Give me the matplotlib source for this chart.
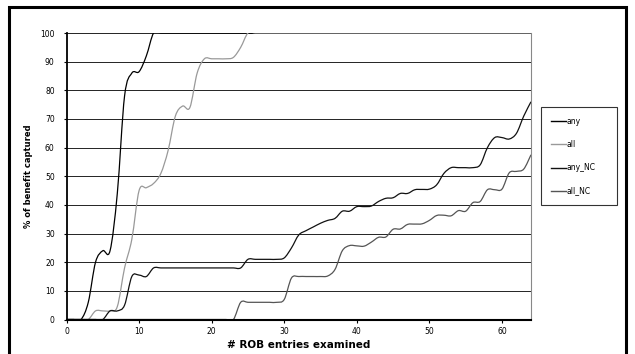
import numpy as np
import matplotlib
matplotlib.use("Agg")
import matplotlib.pyplot as plt
from matplotlib.path import Path
from matplotlib.patches import PathPatch, Rectangle
from matplotlib.lines import Line2D

# ROB entries examined
entries = np.arange(0, 65)

any_ = [0, 0, 0, 6, 20, 24, 24, 44, 78, 86, 86.5, 92, 100] + [100] * 52
all_ = ([0, 0, 0, 0, 3, 3, 3, 4.5, 18, 28, 45, 46, 47.5, 51, 59, 71, 74.5, 74,
         86, 91, 91, 91, 91, 91.5, 95, 100] + [100] * 39)
any_nc = ([0, 0, 0, 0, 0, 0, 3, 3, 5, 15, 15.5, 15] + [18] * 13 +
          [21, 21, 21, 21, 21, 21.5, 25, 29.5, 31, 32.3, 33.6, 34.6, 35.3,
           37.8, 37.8, 39.4, 39.4, 39.6, 41.2, 42.3, 42.5, 44, 44, 45.3, 45.4,
           45.5, 47, 51, 53, 53, 53, 53, 54, 60, 63.5, 63.5, 63, 65, 71, 76])
all_nc = ([0] * 24 + [6, 6, 6, 6, 6, 6, 7, 14.5, 15, 15, 15, 15, 15.2, 17.5,
                      24, 25.8, 25.7, 25.6, 27, 28.7, 28.8, 31.5, 31.6, 33.2,
                      33.3, 33.4, 34.6, 36.3, 36.4, 36.2, 38, 37.8, 40.8, 41.2,
                      45.3, 45.3, 45.5, 51.2, 51.7, 52.5, 57.5])

series = [("any", any_, "#000000"),
          ("all", all_, "#999999"),
          ("any_NC", any_nc, "#111111"),
          ("all_NC", all_nc, "#555555")]


def smooth_path(x, y):
    # excel-style smoothed line: bezier segments through the points
    x = np.asarray(x, float)
    y = np.asarray(y, float)
    n = len(x)
    verts = [(x[0], y[0])]
    codes = [Path.MOVETO]
    for i in range(n - 1):
        a = max(i - 1, 0)
        b = min(i + 2, n - 1)
        c1 = (x[i] + (x[i + 1] - x[a]) / 6, y[i] + (y[i + 1] - y[a]) / 6)
        c2 = (x[i + 1] - (x[b] - x[i]) / 6, y[i + 1] - (y[b] - y[i]) / 6)
        verts += [c1, c2, (x[i + 1], y[i + 1])]
        codes += [Path.CURVE4] * 3
    return Path(verts, codes)


fig = plt.figure(figsize=(6.35, 3.54), dpi=100)
ax = fig.add_axes([66.5 / 635, 1 - 319.5 / 354, (531 - 66.5) / 635, (319.5 - 33) / 354])

ax.set_xlim(0, 64)
ax.set_ylim(0, 100)
ax.set_xticks(np.arange(0, 61, 10))
ax.set_yticks(np.arange(0, 101, 10))
ax.yaxis.grid(True, color="black", lw=0.6)
ax.set_axisbelow(True)

handles = []
for label, vals, col in series:
    patch = PathPatch(smooth_path(entries, vals), facecolor="none",
                      edgecolor=col, lw=0.9)
    ax.add_patch(patch)
    handles.append(Line2D([], [], color=col, lw=1.0, label=label))

ax.spines["top"].set_visible(False)
ax.spines["right"].set_color("#888888")
ax.spines["left"].set_linewidth(1.3)
ax.spines["bottom"].set_linewidth(1.5)
for sp in ax.spines.values():
    sp.set_zorder(3)
ax.tick_params(axis="both", labelsize=5.5, length=2.5, width=0.8, pad=3,
               colors="black")
ax.tick_params(axis="y", pad=6)

ax.set_xlabel("# ROB entries examined", fontsize=7.5, fontweight="bold",
              labelpad=3)
ax.set_ylabel("% of benefit captured", fontsize=6, fontweight="bold",
              labelpad=5)

fig.legend(handles=handles, loc="upper left",
           bbox_to_anchor=(541 / 635, 1 - 206 / 354, 76 / 635, 99 / 354),
           mode="expand", fontsize=5.5, frameon=True, fancybox=False,
           edgecolor="black", handlelength=2.0, handletextpad=0.1,
           labelspacing=1.85, borderpad=1.3, borderaxespad=0)
fig.legends[0].get_frame().set_linewidth(0.8)

# outer chart frame
fig.patches.append(Rectangle((9 / 635, -0.1), 617 / 635, 1.1 - 7 / 354,
                             transform=fig.transFigure, fill=False,
                             edgecolor="black", lw=2.2, clip_on=False))

fig.savefig("out.png", dpi=100)
